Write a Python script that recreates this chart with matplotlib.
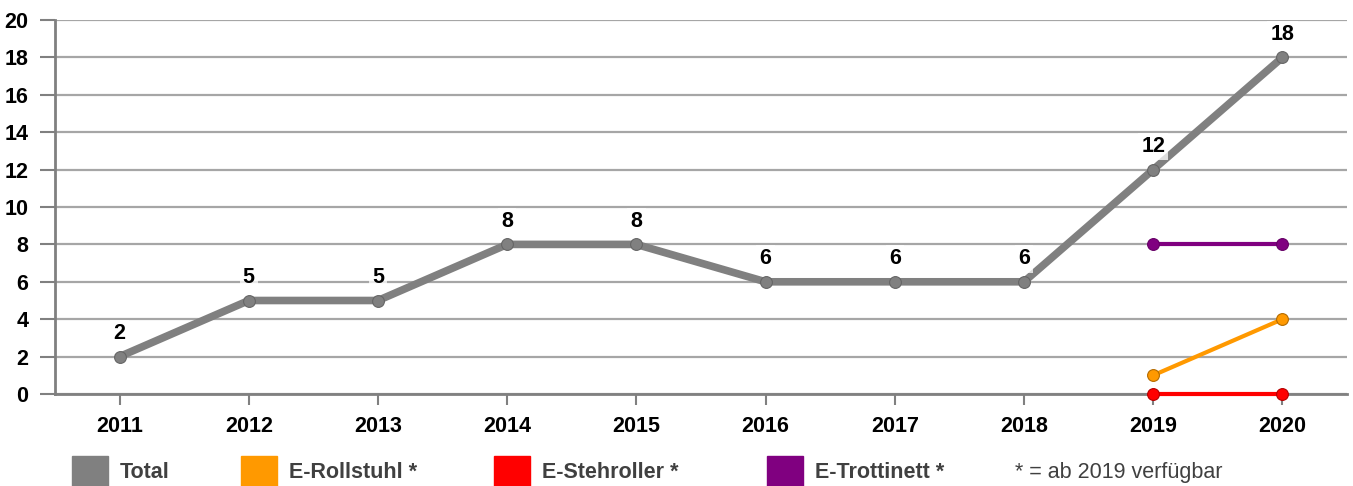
import matplotlib.pyplot as plt
import matplotlib.patches as mpatches

plt.rcParams['font.family'] = ['Liberation Sans', 'DejaVu Sans']

years = ['2011', '2012', '2013', '2014', '2015', '2016', '2017', '2018', '2019', '2020']
total = [2, 5, 5, 8, 8, 6, 6, 6, 12, 18]
rollstuhl = [1, 4]
stehroller = [0, 0]
trottinett = [8, 8]
new_years = ['2019', '2020']

legend_labels = ['Total', 'E-Rollstuhl *', 'E-Stehroller *', 'E-Trottinett *']
footnote = '* = ab 2019 verfügbar'
colors = ['#808080', '#ff9900', '#ff0000', '#800080']

fig = plt.figure(figsize=(13.53, 4.86), dpi=100)
ax = fig.add_axes([55 / 1353, 1 - 394 / 486, 1292 / 1353, 374 / 486])

x_all = list(range(len(years)))
x_new = [years.index(y) for y in new_years]

# gridlines
ax.set_ylim(0, 20)
ax.set_xlim(-0.5, len(years) - 0.5)
ax.set_yticks(range(0, 21, 2))
ax.yaxis.grid(True, color='#a6a6a6', linewidth=1.6)
ax.set_axisbelow(True)

ax.plot(x_all, total, color=colors[0], linewidth=5.5, marker='o', markersize=8.5,
        markerfacecolor=colors[0], markeredgecolor='#666666', markeredgewidth=0.8, zorder=3)
ax.plot(x_new, trottinett, color=colors[3], linewidth=3, marker='o', markersize=8.5,
        markerfacecolor=colors[3], markeredgecolor='#660066', markeredgewidth=0.8, zorder=3)
ax.plot(x_new, rollstuhl, color=colors[1], linewidth=3, marker='o', markersize=8.5,
        markerfacecolor=colors[1], markeredgecolor='#b36b00', markeredgewidth=0.8, zorder=3)
ax.plot(x_new, stehroller, color=colors[2], linewidth=3, marker='o', markersize=8.5,
        markerfacecolor=colors[2], markeredgecolor='#b30000', markeredgewidth=0.8, zorder=3,
        clip_on=False)

for xi, v in zip(x_all, total):
    ax.annotate(str(v), (xi, v), xytext=(0, 9), textcoords='offset points',
                ha='center', va='bottom', fontsize=15.5, fontweight='bold', color='black',
                bbox=dict(boxstyle='square,pad=0.15', fc='white', ec='none', alpha=0.75),
                zorder=4)

ax.set_xticks(x_all)
ax.set_xticklabels(years)
ax.tick_params(axis='x', length=8, width=1.5, color='#808080', pad=8, labelsize=15.5)
ax.tick_params(axis='y', length=11, width=1.5, color='#808080', pad=8, labelsize=15.5)
for lab in ax.get_xticklabels() + ax.get_yticklabels():
    lab.set_fontweight('bold')

for side in ['top', 'right']:
    ax.spines[side].set_visible(False)
for side in ['left', 'bottom']:
    ax.spines[side].set_color('#808080')
    ax.spines[side].set_linewidth(2)

# legend
patch_x = [72, 241, 494, 767]
for px, lab, c in zip(patch_x, legend_labels, colors):
    fig.patches.append(mpatches.Rectangle((px / 1353, 0), 36 / 1353, 30 / 486,
                                          transform=fig.transFigure, color=c))
    fig.text((px + 48) / 1353, 1 - 472 / 486, lab, fontsize=15.5, fontweight='bold',
             color='#404040', va='center', ha='left')
fig.text(1015 / 1353, 1 - 472 / 486, footnote, fontsize=15.5, color='#404040',
         va='center', ha='left')

fig.savefig('out.png', dpi=100)
